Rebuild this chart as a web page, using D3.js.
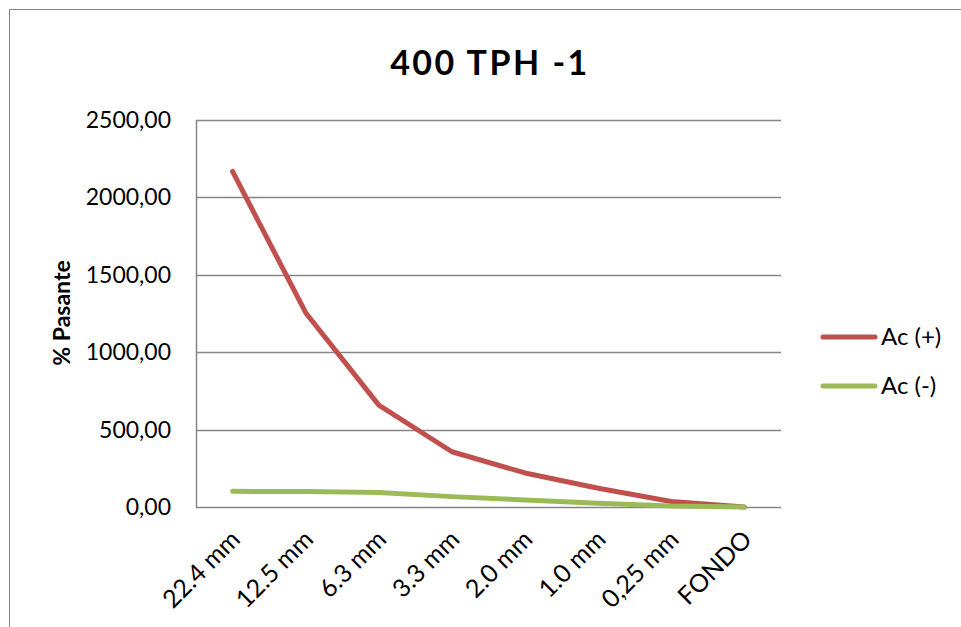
<!DOCTYPE html>
<html>
<head>
<meta charset="utf-8">
<script src="https://cdn.jsdelivr.net/npm/d3@7"></script>
<style>
  body { margin: 0; background: #fff; }
  text { font-family: Lato, "Open Sans", sans-serif; }
</style>
</head>
<body>
<div id="viz"></div>
<script>
// Data
const categories = ["22.4 mm", "12.5 mm", "6.3 mm", "3.3 mm", "2.0 mm", "1.0 mm", "0,25 mm", "FONDO"];
const acMas = [2168, 1255, 658, 357, 220, 121, 35, 0];
const acMenos = [101, 100, 93, 67, 45, 24, 6, 0];
const yTicks = [0, 500, 1000, 1500, 2000, 2500];
const seriesNames = ["Ac (+)", "Ac (-)"];
const seriesColors = ["#C0504D", "#9BBB59"];

const dims = {
    width: 961,
    height: 627,
    plot: { left: 196, right: 781, top: 120, bottom: 507 }
};

const svg = d3.select("#viz")
    .append("svg")
    .attr("width", dims.width)
    .attr("height", dims.height);

// chart border (right/bottom edges fall outside the window)
svg.append("rect")
    .attr("x", 9.5).attr("y", 9.5)
    .attr("width", 970).attr("height", 640)
    .attr("fill", "#fff")
    .attr("stroke", "#868686")
    .attr("stroke-width", 1);

const x = d3.scaleBand()
    .domain(categories)
    .range([dims.plot.left, dims.plot.right]);

const y = d3.scaleLinear()
    .domain([0, 2500])
    .range([dims.plot.bottom, dims.plot.top]);

// gridlines
svg.append("g")
    .selectAll("line")
    .data(yTicks)
    .join("line")
    .attr("x1", dims.plot.left)
    .attr("x2", dims.plot.right)
    .attr("y1", d => Math.round(y(d)) + 0.5)
    .attr("y2", d => Math.round(y(d)) + 0.5)
    .attr("stroke", "#868686")
    .attr("stroke-width", 1.5);

// y axis line
svg.append("line")
    .attr("x1", dims.plot.left + 0.5).attr("x2", dims.plot.left + 0.5)
    .attr("y1", dims.plot.top).attr("y2", dims.plot.bottom + 1)
    .attr("stroke", "#868686")
    .attr("stroke-width", 1.5);

// y tick labels
const fmt = d => d3.format(".2f")(d).replace(".", ",");
svg.append("g")
    .selectAll("text")
    .data(yTicks)
    .join("text")
    .attr("x", 171)
    .attr("y", d => y(d))
    .attr("dy", "0.35em")
    .attr("text-anchor", "end")
    .attr("font-size", "23px")
    .attr("fill", "#000")
    .text(fmt);

// x tick labels, rotated
svg.append("g")
    .selectAll("text")
    .data(categories)
    .join("text")
    .attr("text-anchor", "end")
    .attr("font-size", "25px")
    .attr("fill", "#000")
    .attr("transform", d => `translate(${x(d) + x.bandwidth() / 2 + 9}, 541) rotate(-45)`)
    .text(d => d);

// lines
const line = d3.line()
    .x((d, i) => x(categories[i]) + x.bandwidth() / 2)
    .y(d => y(d));

[acMas, acMenos].forEach((series, i) => {
    svg.append("path")
        .datum(series)
        .attr("d", line)
        .attr("fill", "none")
        .attr("stroke", seriesColors[i])
        .attr("stroke-width", 5)
        .attr("stroke-linecap", "round")
        .attr("stroke-linejoin", "round");
});

// title
svg.append("text")
    .attr("x", 490)
    .attr("y", 75)
    .attr("text-anchor", "middle")
    .attr("font-size", "34px")
    .attr("font-weight", "bold")
    .attr("letter-spacing", "2.5px")
    .text("400 TPH -1");

// y axis title
svg.append("text")
    .attr("transform", "translate(70, 313) rotate(-90)")
    .attr("text-anchor", "middle")
    .attr("font-size", "23px")
    .attr("font-weight", "bold")
    .text("% Pasante");

// legend
const legend = svg.append("g");
seriesNames.forEach((name, i) => {
    const ly = 337 + i * 49;
    legend.append("line")
        .attr("x1", 823).attr("x2", 875)
        .attr("y1", ly).attr("y2", ly)
        .attr("stroke", seriesColors[i])
        .attr("stroke-width", 5)
        .attr("stroke-linecap", "round");
    legend.append("text")
        .attr("x", 881)
        .attr("y", ly)
        .attr("dy", "0.35em")
        .attr("font-size", "24px")
        .text(name);
});
</script>
</body>
</html>
